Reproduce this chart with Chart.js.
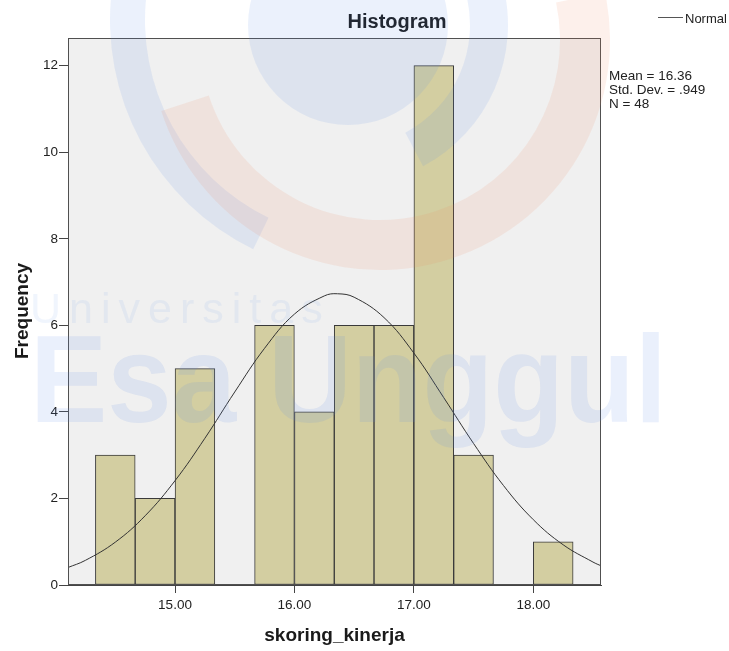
<!DOCTYPE html>
<html>
<head>
<meta charset="utf-8">
<script src="https://cdn.jsdelivr.net/npm/chart.js@4.4.1/dist/chart.umd.min.js"></script>
<style>
  html, body { margin: 0; padding: 0; background: #ffffff; }
  #wrap { width: 729px; height: 651px; position: relative; }
</style>
</head>
<body>
<div id="wrap"><canvas id="c" width="729" height="651"></canvas></div>
<script>
// ---- data ----
const binCenters   = [14.5, 14.833, 15.167, 15.5, 15.833, 16.167, 16.5, 16.833, 17.167, 17.5, 17.833, 18.167];
const frequencies  = [3, 2, 5, 0, 6, 4, 6, 6, 12, 3, 0, 1];
const curveX       = [14.1, 14.25, 14.5, 14.75, 15.0, 15.25, 15.5, 15.75, 16.0, 16.25, 16.36, 16.5, 16.75, 17.0, 17.25, 17.5, 17.75, 18.0, 18.25, 18.5, 18.57];
const curveY       = [0.40, 0.57, 0.99, 1.60, 2.41, 3.39, 4.46, 5.47, 6.26, 6.68, 6.73, 6.65, 6.18, 5.36, 4.33, 3.27, 2.30, 1.51, 0.93, 0.53, 0.44];
const xTickValues  = [15, 16, 17, 18];
const yTickValues  = [0, 2, 4, 6, 8, 10, 12];
const statLines    = ['Mean = 16.36', 'Std. Dev. = .949', 'N = 48'];
const chartTitle   = 'Histogram';
const xTitle       = 'skoring_kinerja';
const yTitle       = 'Frequency';
const legendLabel  = 'Normal';

const barData = binCenters.map((x, i) => ({ x: x, y: frequencies[i] === 0 ? null : frequencies[i] }));
const lineData = curveX.map((x, i) => ({ x: x, y: curveY[i] }));

const FONT = '"Liberation Sans", Arial, sans-serif';

const decor = {
  id: 'decor',
  beforeDatasetsDraw(chart) {
    const { ctx, chartArea: a } = chart;
    ctx.save();
    ctx.fillStyle = '#f0f0f0';
    ctx.fillRect(a.left, a.top, a.right - a.left, a.bottom - a.top);
    ctx.restore();
  },
  afterDraw(chart) {
    const { ctx, chartArea: a } = chart;
    ctx.save();
    // frame
    ctx.strokeStyle = '#505050';
    ctx.lineWidth = 1;
    ctx.strokeRect(Math.round(a.left) + 0.5, Math.round(a.top) + 0.5,
                   Math.round(a.right - a.left) - 1, Math.round(a.bottom - a.top) - 1);

    ctx.fillStyle = '#1a1a1a';
    // title
    ctx.font = 'bold 20px ' + FONT;
    ctx.textAlign = 'center';
    ctx.textBaseline = 'alphabetic';
    ctx.fillText(chartTitle, 397, 28);

    // x title
    ctx.font = 'bold 19px ' + FONT;
    ctx.fillText(xTitle, (a.left + a.right) / 2, 641);

    // y title
    ctx.save();
    ctx.translate(28, 311);
    ctx.rotate(-Math.PI / 2);
    ctx.textAlign = 'center';
    ctx.fillText(yTitle, 0, 0);
    ctx.restore();

    // legend
    ctx.strokeStyle = '#555555';
    ctx.beginPath();
    ctx.moveTo(658, 17.5);
    ctx.lineTo(683, 17.5);
    ctx.stroke();
    ctx.fillStyle = '#222222';
    ctx.font = '13px ' + FONT;
    ctx.textAlign = 'left';
    ctx.fillText(legendLabel, 685, 23);

    // stats
    ctx.font = '13.5px ' + FONT;
    statLines.forEach((t, i) => ctx.fillText(t, 609, 80 + i * 14));

    // watermark
    ctx.globalAlpha = 0.12;
    ctx.fillStyle = 'rgb(90,140,230)';
    ctx.beginPath();
    ctx.arc(348, 25, 100, 0, Math.PI * 2);
    ctx.fill();
    const ring = (cx, cy, r1, r2, a1, a2, col) => {
      ctx.fillStyle = col;
      ctx.beginPath();
      ctx.arc(cx, cy, r2, a1 * Math.PI / 180, a2 * Math.PI / 180);
      ctx.arc(cx, cy, r1, a2 * Math.PI / 180, a1 * Math.PI / 180, true);
      ctx.closePath();
      ctx.fill();
    };
    ring(348, 25, 122, 160, -15, 62, 'rgb(90,140,230)');
    ring(365, 20, 220, 255, 116, 187, 'rgb(90,140,230)');
    ring(380, 40, 180, 230, -12, 162, 'rgb(240,130,90)');

    ctx.globalAlpha = 0.09;
    ctx.fillStyle = 'rgb(90,140,230)';
    ctx.font = '43px ' + FONT;
    try { ctx.letterSpacing = '8px'; } catch (e) {}
    ctx.fillText('Universitas', 30, 323);
    try { ctx.letterSpacing = '0px'; } catch (e) {}

    ctx.globalAlpha = 0.13;
    ctx.font = 'bold 125px ' + FONT;
    const w = ctx.measureText('Esa Unggul').width;
    ctx.translate(30, 422);
    ctx.scale(637 / w, 1);
    ctx.fillText('Esa Unggul', 0, 0);
    ctx.restore();
  }
};

new Chart(document.getElementById('c'), {
  data: {
    datasets: [
      {
        type: 'line',
        label: legendLabel,
        data: lineData,
        borderColor: '#333333',
        borderWidth: 1,
        pointRadius: 0,
        tension: 0.4,
        fill: false,
        order: 0
      },
      {
        type: 'bar',
        label: 'Frequency',
        data: barData,
        backgroundColor: '#d3cea1',
        borderColor: '#3a3a3a',
        borderWidth: 1,
        borderSkipped: false,
        barPercentage: 1,
        categoryPercentage: 1,
        order: 1
      }
    ]
  },
  options: {
    responsive: false,
    animation: false,
    layout: { padding: { top: 38, right: 128, left: 0, bottom: 0 } },
    plugins: { legend: { display: false }, tooltip: { enabled: false }, title: { display: false } },
    scales: {
      x: {
        type: 'linear',
        offset: false,
        min: 14.104,
        max: 18.567,
        afterBuildTicks: s => { s.ticks = xTickValues.map(v => ({ value: v })); },
        afterFit: s => { s.height = 66; },
        grid: { offset: false, drawOnChartArea: false, drawTicks: true, tickLength: 8, color: '#444444' },
        border: { display: true, color: '#444444', width: 1 },
        ticks: {
          autoSkip: false, maxRotation: 0, padding: 4,
          color: '#222222', font: { family: FONT, size: 13.5 },
          callback: v => Number(v).toFixed(2)
        }
      },
      y: {
        type: 'linear',
        min: 0,
        max: 12.64,
        afterBuildTicks: s => { s.ticks = yTickValues.map(v => ({ value: v })); },
        afterFit: s => { s.width = 68; },
        grid: { offset: false, drawOnChartArea: false, drawTicks: true, tickLength: 9, color: '#444444' },
        border: { display: true, color: '#444444', width: 1 },
        ticks: {
          autoSkip: false, padding: 1,
          color: '#222222', font: { family: FONT, size: 13.5 },
          callback: v => String(v)
        }
      }
    }
  },
  plugins: [decor]
});
</script>
</body>
</html>
